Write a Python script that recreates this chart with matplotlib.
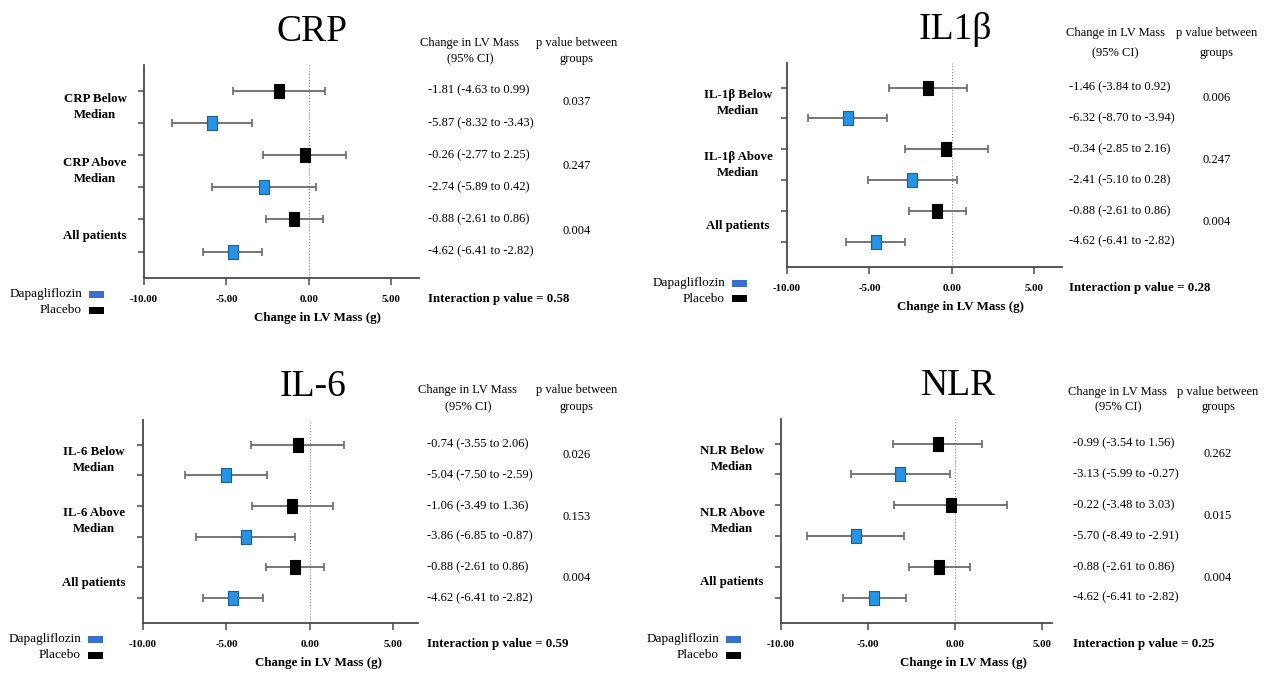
import numpy as np
import matplotlib.pyplot as plt
from matplotlib.patches import Rectangle
from matplotlib.transforms import blended_transform_factory

plt.rcParams['font.family'] = ['Liberation Serif', 'DejaVu Serif']

W, H = 1271, 673

# row order: placebo below, dapa below, placebo above, dapa above, placebo all, dapa all
crp_mean = [-1.81, -5.87, -0.26, -2.74, -0.88, -4.62]
crp_lo = [-4.63, -8.32, -2.77, -5.89, -2.61, -6.41]
crp_hi = [0.99, -3.43, 2.25, 0.42, 0.86, -2.82]
crp_p = ['0.037', '0.247', '0.004']

il1b_mean = [-1.46, -6.32, -0.34, -2.41, -0.88, -4.62]
il1b_lo = [-3.84, -8.70, -2.85, -5.10, -2.61, -6.41]
il1b_hi = [0.92, -3.94, 2.16, 0.28, 0.86, -2.82]
il1b_p = ['0.006', '0.247', '0.004']

il6_mean = [-0.74, -5.04, -1.06, -3.86, -0.88, -4.62]
il6_lo = [-3.55, -7.50, -3.49, -6.85, -2.61, -6.41]
il6_hi = [2.06, -2.59, 1.36, -0.87, 0.86, -2.82]
il6_p = ['0.026', '0.153', '0.004']

nlr_mean = [-0.99, -3.13, -0.22, -5.70, -0.88, -4.62]
nlr_lo = [-3.54, -5.99, -3.48, -8.49, -2.61, -6.41]
nlr_hi = [1.56, -0.27, 3.03, -2.91, 0.86, -2.82]
nlr_p = ['0.262', '0.015', '0.004']

titles = ['CRP', 'IL1β', 'IL-6', 'NLR']
groups = [['CRP Below\nMedian', 'CRP Above\nMedian', 'All patients'],
          ['IL-1β Below\nMedian', 'IL-1β Above\nMedian', 'All patients'],
          ['IL-6 Below\nMedian', 'IL-6 Above\nMedian', 'All patients'],
          ['NLR Below\nMedian', 'NLR Above\nMedian', 'All patients']]
interaction = ['0.58', '0.28', '0.59', '0.25']
xticks = [-10, -5, 0, 5]

data = [(crp_mean, crp_lo, crp_hi, crp_p),
        (il1b_mean, il1b_lo, il1b_hi, il1b_p),
        (il6_mean, il6_lo, il6_hi, il6_p),
        (nlr_mean, nlr_lo, nlr_hi, nlr_p)]

# layout in pixels: axes box, x max, header line ys, value x, header x, p x
layout = [
    dict(L=144, R=419, T=65, B=278, xmax=6.67, hy=(43, 59), vx=428, hx=470, px_=577),
    dict(L=787, R=1062, T=63, B=267, xmax=6.67, hy=(33, 53), vx=1069, hx=1115, px_=1217),
    dict(L=143, R=418, T=420, B=623, xmax=6.47, hy=(390, 407), vx=427, hx=468, px_=577),
    dict(L=781, R=1052, T=419, B=623, xmax=5.6, hy=(392, 407), vx=1073, hx=1118, px_=1218),
]

blue = '#2394e6'
blue_edge = '#1a5e9e'
leg_blue = '#3a6fd2'
grey = '#6a6a6a'
spine = '#4a4a4a'

fig = plt.figure(figsize=(W / 100, H / 100), dpi=100)

rect_marker = [(-0.62, -1), (0.62, -1), (0.62, 1), (-0.62, 1), (-0.62, -1)]

for k in range(4):
    lay = layout[k]
    mean, lo, hi, pvals = data[k]
    mean = np.array(mean)
    lo = np.array(lo)
    hi = np.array(hi)
    rows = np.arange(6)

    ax = fig.add_axes([lay['L'] / W, 1 - lay['B'] / H,
                       (lay['R'] - lay['L']) / W, (lay['B'] - lay['T']) / H])
    ax.set_xlim(-10, lay['xmax'])
    ax.set_ylim(5.82, -0.8)

    ax.axvline(0, color='#8a8a8a', lw=0.8, ls=':', zorder=0)

    for sel, fc, ec in [(rows % 2 == 0, 'black', 'black'), (rows % 2 == 1, blue, blue_edge)]:
        ax.errorbar(mean[sel], rows[sel], xerr=[mean[sel] - lo[sel], hi[sel] - mean[sel]],
                    fmt='none', ecolor=grey, elinewidth=1.3, capsize=3, capthick=1.2, zorder=2)
        ax.plot(mean[sel], rows[sel], ls='none', marker=rect_marker, ms=10.5,
                mfc=fc, mec=ec, mew=0.8, zorder=3)

    for s in ['top', 'right']:
        ax.spines[s].set_visible(False)
    for s in ['left', 'bottom']:
        ax.spines[s].set_color(spine)
        ax.spines[s].set_linewidth(1.3)

    ax.set_yticks(rows)
    ax.set_yticklabels([])
    ax.tick_params(axis='y', length=4, width=1.1, color=spine)
    ax.set_xticks(xticks)
    ax.set_xticklabels(['%.2f' % t for t in xticks], fontweight='bold', fontsize=7.8)
    ax.tick_params(axis='x', length=5, width=1.1, color=spine, pad=7)

    # group labels
    lt = blended_transform_factory(ax.transAxes, ax.transData)
    dx = -49 / (lay['R'] - lay['L'])
    for g in range(3):
        ax.text(dx, 2 * g + 0.5, groups[k][g], transform=lt, ha='center', va='center',
                fontsize=9.3, fontweight='bold', linespacing=1.45)

    # title and x label
    tt = blended_transform_factory(ax.transData, ax.transAxes)
    ax.annotate(titles[k], xy=(0.2, 1), xycoords=tt, xytext=(0, 33 * 0.72),
                textcoords='offset points', ha='center', va='center', fontsize=27)
    ax.annotate('Change in LV Mass (g)', xy=(0.5, 0), xycoords=tt, xytext=(0, -40 * 0.72),
                textcoords='offset points', ha='center', va='center', fontsize=9.4,
                fontweight='bold')

    # table columns
    ft = blended_transform_factory(fig.transFigure, ax.transData)
    for i in range(6):
        s = '%.2f (%.2f to %.2f)' % (mean[i], lo[i], hi[i])
        ax.text(lay['vx'] / W, i, s, transform=ft, ha='left', va='center', fontsize=9)
    for g in range(3):
        ax.text(lay['px_'] / W, 2 * g + 0.35, pvals[g], transform=ft, ha='center',
                va='center', fontsize=9)
    fig.text(lay['hx'] / W, 1 - lay['hy'][0] / H, 'Change in LV Mass', ha='center',
             va='center', fontsize=9)
    fig.text(lay['hx'] / W, 1 - lay['hy'][1] / H, '(95% CI)', ha='center',
             va='center', fontsize=9)
    fig.text(lay['px_'] / W, 1 - lay['hy'][0] / H, 'p value between', ha='center',
             va='center', fontsize=9)
    fig.text(lay['px_'] / W, 1 - lay['hy'][1] / H, 'groups', ha='center',
             va='center', fontsize=9)
    fig.text(lay['vx'] / W, 1 - (lay['B'] + 21) / H,
             'Interaction p value = ' + interaction[k], ha='left', va='center',
             fontsize=9.3, fontweight='bold')

    # legend
    lx = lay['L'] - 62
    for j, (name, c) in enumerate([('Dapagliflozin', leg_blue), ('Placebo', 'black')]):
        y = lay['B'] + 16 + 16 * j
        fig.text(lx / W, 1 - y / H, name, ha='right', va='center', fontsize=9.5)
        fig.patches.append(Rectangle(((lx + 7) / W, 1 - (y + 3.5) / H), 15 / W, 7 / H,
                                     transform=fig.transFigure, facecolor=c,
                                     edgecolor='none'))

fig.savefig('out.png', dpi=100, facecolor='white')
